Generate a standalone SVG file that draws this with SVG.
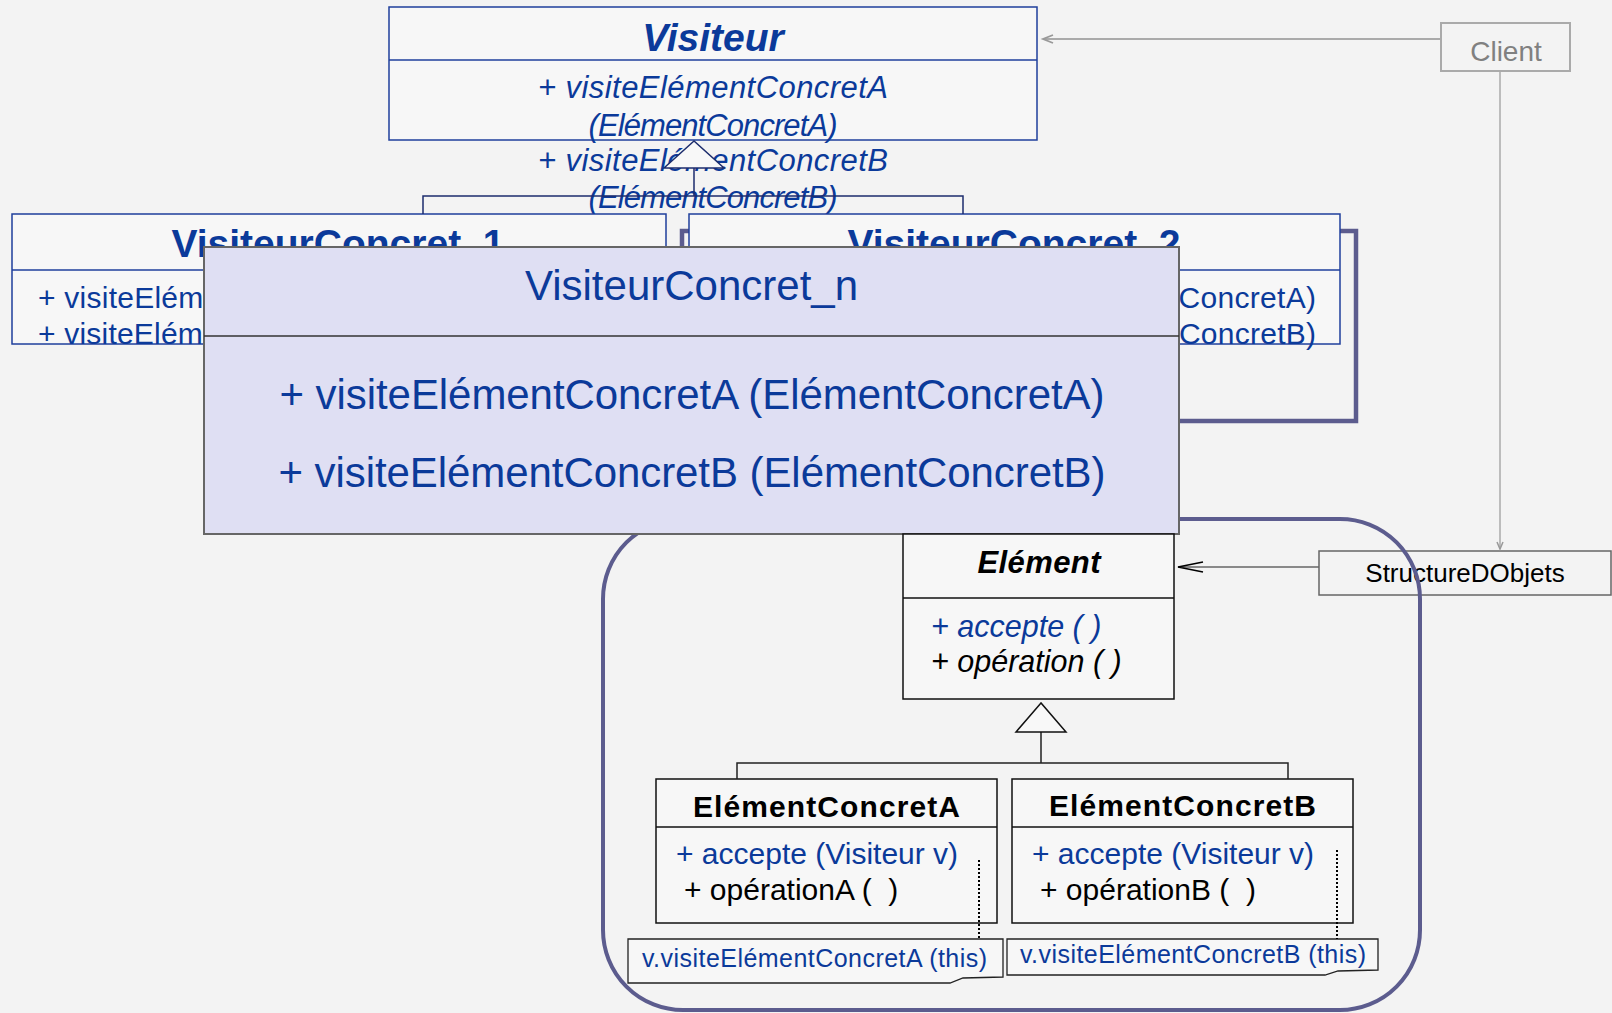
<svg xmlns="http://www.w3.org/2000/svg" width="1612" height="1013" viewBox="0 0 1612 1013">
<style>
text{font-family:"Liberation Sans",Arial,sans-serif}
.blue{fill:#0b3a9a}
.blk{fill:#000}
.vbox{fill:#f7f7f7;stroke:#1f3f9c;stroke-width:1.5}
.ebox{fill:#f7f7f7;stroke:#111;stroke-width:1.5}
.conn{fill:none;stroke:#1d2d6d;stroke-width:1.5}
.econn{fill:none;stroke:#222;stroke-width:1.5}
.tri{fill:#f8f8f8;stroke:#1d2d6d;stroke-width:1.5}
.etri{fill:#f8f8f8;stroke:#111;stroke-width:1.5}
.frame{fill:none;stroke:#5c5c8e}
.pre{white-space:pre}
.note{fill:#f7f7f7;stroke:#222;stroke-width:1.3}
.dot{stroke:#000;stroke-width:2;stroke-dasharray:2 2;fill:none}
</style>
<defs>
<marker id="openGray" markerUnits="userSpaceOnUse" markerWidth="12" markerHeight="10" viewBox="0 0 12 10" refX="11" refY="5" orient="auto" overflow="visible">
<path d="M1,1 L11,5 L1,9" fill="none" stroke="#999" stroke-width="1.8"/>
</marker>
<marker id="openGraySm" markerUnits="userSpaceOnUse" markerWidth="9" markerHeight="8" viewBox="0 0 9 8" refX="8" refY="4" orient="auto" overflow="visible">
<path d="M1,1 L8,4 L1,7" fill="none" stroke="#999" stroke-width="1.5"/>
</marker>
<marker id="openBlack" markerUnits="userSpaceOnUse" markerWidth="28" markerHeight="14" viewBox="0 0 28 14" refX="26" refY="7" orient="auto" overflow="visible">
<path d="M1,2 L26,7 L1,12" fill="none" stroke="#000" stroke-width="1.6"/>
</marker>
</defs>
<rect width="1612" height="1013" fill="#f3f3f3"/>

<g id="visiteur">
<rect class="vbox" x="389" y="7" width="648" height="133"/>
<line x1="389" y1="60" x2="1037" y2="60" stroke="#1f3f9c" stroke-width="1.5"/>
<text class="blue" x="713" y="51" text-anchor="middle" font-size="39" font-weight="bold" font-style="italic">Visiteur</text>
<text class="blue" x="713" y="98" text-anchor="middle" font-size="31" font-style="italic" textLength="350">+ visiteElémentConcretA</text>
<text class="blue" x="713" y="136" text-anchor="middle" font-size="31" font-style="italic" textLength="249">(ElémentConcretA)</text>
<text class="blue" x="713" y="171" text-anchor="middle" font-size="31" font-style="italic" textLength="350">+ visiteElémentConcretB</text>
<text class="blue" x="713" y="208" text-anchor="middle" font-size="31" font-style="italic" textLength="249">(ElémentConcretB)</text>
</g>

<g id="vc-stack-frame">
<rect class="frame" stroke-width="4.5" x="682" y="231" width="674" height="190"/>
</g>

<g id="visiteurConcret1">
<rect class="vbox" x="12" y="214" width="654" height="130"/>
<line x1="12" y1="270" x2="666" y2="270" stroke="#1f3f9c" stroke-width="1.5"/>
<text class="blue" x="338" y="257" text-anchor="middle" font-size="39" font-weight="bold">VisiteurConcret_1</text>
<text class="blue" x="38" y="308" font-size="30" textLength="601">+ visiteElémentConcretA (ElémentConcretA)</text>
<text class="blue" x="38" y="344" font-size="30" textLength="601">+ visiteElémentConcretB (ElémentConcretB)</text>
</g>

<g id="visiteurConcret2">
<rect class="vbox" x="689" y="214" width="651" height="130"/>
<line x1="689" y1="270" x2="1340" y2="270" stroke="#1f3f9c" stroke-width="1.5"/>
<text class="blue" x="1014" y="257" text-anchor="middle" font-size="39" font-weight="bold">VisiteurConcret_2</text>
<text class="blue" x="713" y="308" font-size="30" textLength="603">+ visiteElémentConcretA (ElémentConcretA)</text>
<text class="blue" x="713" y="344" font-size="30" textLength="603">+ visiteElémentConcretB (ElémentConcretB)</text>
</g>

<g id="client">
<rect x="1441" y="23" width="129" height="48" fill="none" stroke="#aaa" stroke-width="2"/>
<text x="1506" y="61" text-anchor="middle" font-size="28" fill="#808080">Client</text>
</g>

<g id="structureDObjets">
<rect x="1319" y="551" width="292" height="44" fill="#f3f3f3" stroke="#666" stroke-width="1.5"/>
<text class="blk" x="1465" y="582" text-anchor="middle" font-size="26">StructureDObjets</text>
</g>

<g id="object-structure-frame">
<rect class="frame" stroke-width="4" x="603" y="519" width="817" height="491" rx="80" ry="80"/>
</g>

<g id="visiteurConcretN">
<rect x="204" y="247" width="975" height="287" fill="#dfdff3" stroke="#666" stroke-width="2"/>
<line x1="204" y1="336" x2="1179" y2="336" stroke="#333" stroke-width="1.5"/>
<text class="blue" x="691.5" y="300" text-anchor="middle" font-size="42">VisiteurConcret_n</text>
<text class="blue" x="692" y="409" text-anchor="middle" font-size="42" textLength="825">+ visiteElémentConcretA (ElémentConcretA)</text>
<text class="blue" x="692" y="487" text-anchor="middle" font-size="42" textLength="827">+ visiteElémentConcretB (ElémentConcretB)</text>
</g>

<g id="element">
<rect class="ebox" x="903" y="534" width="271" height="165"/>
<line x1="903" y1="598" x2="1174" y2="598" stroke="#111" stroke-width="1.5"/>
<text class="blk" x="1039" y="573" text-anchor="middle" font-size="31" font-weight="bold" font-style="italic" textLength="123">Elément</text>
<text class="blue" x="931" y="637" font-size="30.5" font-style="italic">+ accepte ( )</text>
<text class="blk" x="931" y="672" font-size="30.5" font-style="italic">+ opération ( )</text>
</g>

<g id="elementConcretA">
<rect class="ebox" x="656" y="779" width="341" height="144"/>
<line x1="656" y1="827" x2="997" y2="827" stroke="#111" stroke-width="1.5"/>
<text class="blk" x="826.5" y="817" text-anchor="middle" font-size="30" font-weight="bold" textLength="267">ElémentConcretA</text>
<text class="blue" x="676" y="864" font-size="30">+ accepte (Visiteur v)</text>
<text class="blk pre" x="684" y="900" font-size="30">+ opérationA (  )</text>
</g>

<g id="elementConcretB">
<rect class="ebox" x="1012" y="779" width="341" height="144"/>
<line x1="1012" y1="827" x2="1353" y2="827" stroke="#111" stroke-width="1.5"/>
<text class="blk" x="1182.5" y="816" text-anchor="middle" font-size="30" font-weight="bold" textLength="267">ElémentConcretB</text>
<text class="blue" x="1032" y="864" font-size="30">+ accepte (Visiteur v)</text>
<text class="blk pre" x="1040" y="900" font-size="30">+ opérationB (  )</text>
</g>

<g id="noteA">
<path class="note" d="M628,939 H1003 V977 L963,978 L950,983 H628 Z"/>
<text class="blue" x="642" y="967" font-size="25" textLength="345">v.visiteElémentConcretA (this)</text>
</g>

<g id="noteB">
<path class="note" d="M1007,939 H1378 V970 L1338,971 L1325,975 H1007 Z"/>
<text class="blue" x="1020" y="963" font-size="25" textLength="346">v.visiteElémentConcretB (this)</text>
</g>

<g id="connectors">
<path class="conn" d="M694,168 V196 M423,214 V196 H963 V214"/>
<polygon class="tri" points="694,141 664,168 724,168"/>
<path class="econn" d="M1041,732 V763 M737,779 V763 H1288 V779"/>
<polygon class="etri" points="1041,703 1016,732 1066,732"/>
<line x1="1441" y1="39" x2="1043" y2="39" stroke="#aaa" stroke-width="2" marker-end="url(#openGray)"/>
<line x1="1500" y1="71" x2="1500" y2="549" stroke="#aaa" stroke-width="1.5" marker-end="url(#openGraySm)"/>
<line x1="1319" y1="567" x2="1178" y2="567" stroke="#666" stroke-width="1.5" marker-end="url(#openBlack)"/>
<line class="dot" x1="979" y1="860" x2="979" y2="939"/>
<line class="dot" x1="1337" y1="850" x2="1337" y2="939"/>
</g>
</svg>
